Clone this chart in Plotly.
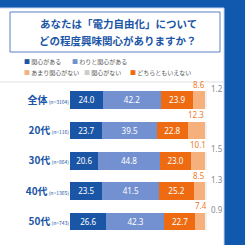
import plotly.graph_objects as go

categories = ["全体", "20代", "30代", "40代", "50代"]
sample_n = ["3104", "116", "864", "1365", "743"]
series_names = ["関心がある", "わりと関心がある", "どちらともいえない", "あまり関心がない", "関心がない"]
kanshin_aru = [24.0, 23.7, 20.6, 23.5, 26.6]
warito = [42.2, 39.5, 44.8, 41.5, 42.3]
dochiratomo = [23.9, 22.8, 23.0, 25.2, 22.7]
amari = [8.6, 12.3, 10.1, 8.5, 7.4]
kanshin_nai = [1.2, 1.8, 1.5, 1.3, 0.9]
title_lines = ["あなたは「電力自由化」について", "どの程度興味関心がありますか？"]

series = [kanshin_aru, warito, dochiratomo, amari, kanshin_nai]
colors = ["#1a55a6", "#7391d0", "#ee6b12", "#f5b07c", "#f2f2f2"]

W, H = 245, 245
L, R, T, B = 70, 38, 85, 0
pw, ph = W - L - R, H - T - B


def px_x(px):
    return (px - L) / pw


def px_y(py):
    return 1 + (T - py) / ph


ticktext = [f"<b>{c}</b><span style='font-size:5px'> (n={n})</span>" for c, n in zip(categories, sample_n)]

fig = go.Figure()
for name, vals, col in zip(series_names, series, colors):
    inside = name in ("関心がある", "わりと関心がある", "どちらともいえない")
    fig.add_trace(go.Bar(
        y=categories, x=vals, name=name, orientation="h",
        marker=dict(color=col, line=dict(width=0)),
        text=[f"{v:.1f}" for v in vals] if inside else None,
        textposition="inside", insidetextanchor="middle",
        textfont=dict(color="white", size=9, family="Noto Sans"),
        showlegend=False, cliponaxis=False,
    ))

annotations = []
for i, c in enumerate(categories):
    base = kanshin_aru[i] + warito[i] + dochiratomo[i]
    annotations.append(dict(x=base + amari[i] / 2, y=c, yshift=16, text=f"{amari[i]:.1f}",
                            showarrow=False, font=dict(color="#ee7a2a", size=8, family="Noto Sans"),
                            xref="x", yref="y"))
    annotations.append(dict(x=base + amari[i] + kanshin_nai[i], y=c, xshift=10, yshift=12,
                            text=f"{kanshin_nai[i]:.1f}", showarrow=False,
                            font=dict(color="#8a8a8a", size=8, family="Noto Sans"),
                            xref="x", yref="y"))

# title lines as separate annotations
for k, line in enumerate(title_lines):
    annotations.append(dict(x=px_x(118), y=px_y(23 + k * 17), xref="paper", yref="paper",
                            xanchor="center", yanchor="middle", showarrow=False,
                            text=f"<b>{line}</b>",
                            font=dict(color="#1a55a6", size=10.5, family="Noto Sans CJK JP")))

# legend built from annotations (two rows as in the reference)
legend_rows = [
    [("関心がある", colors[0], 22), ("わりと関心がある", colors[1], 70)],
    [("あまり関心がない", colors[3], 22), ("関心がない", colors[4], 82), ("どちらともいえない", colors[2], 128)],
]
for row_i, row in enumerate(legend_rows):
    py = 62 + row_i * 10
    for label, col, x0 in row:
        sq = "#cccccc" if label == "関心がない" else col
        annotations.append(dict(x=px_x(x0), y=px_y(py), xref="paper", yref="paper",
                                xanchor="left", yanchor="middle", showarrow=False,
                                text=f"<span style='color:{sq}'>■</span> {label}",
                                font=dict(size=6, color="#555555", family="Noto Sans CJK JP")))

fig.update_layout(
    width=W, height=H,
    margin=dict(l=L, r=R, t=T, b=B),
    paper_bgcolor="#1159ae", plot_bgcolor="white",
    barmode="stack", bargap=0.42,
    showlegend=False,
    xaxis=dict(range=[0, 100], visible=False, fixedrange=True),
    yaxis=dict(autorange="reversed", tickvals=categories, ticktext=ticktext,
               tickfont=dict(color="#1a55a6", size=10, family="Noto Sans CJK JP"),
               showgrid=False, zeroline=False, ticks="", showline=False),
    annotations=annotations,
    shapes=[
        dict(type="rect", xref="paper", yref="paper", x0=px_x(-5), x1=px_x(224), y0=px_y(250), y1=px_y(8),
             fillcolor="white", line=dict(color="#c9d6ee", width=1), layer="below"),
        dict(type="rect", xref="paper", yref="paper", x0=px_x(10), x1=px_x(220), y0=px_y(52), y1=px_y(12),
             fillcolor="rgba(0,0,0,0)", line=dict(color="#5a7fc4", width=1), layer="below"),
        dict(type="line", xref="paper", yref="paper", x0=px_x(-5), x1=px_x(224), y0=px_y(82), y1=px_y(82),
             line=dict(color="#e0e0e0", width=1), layer="below"),
    ],
)

fig.write_html("out.html")
